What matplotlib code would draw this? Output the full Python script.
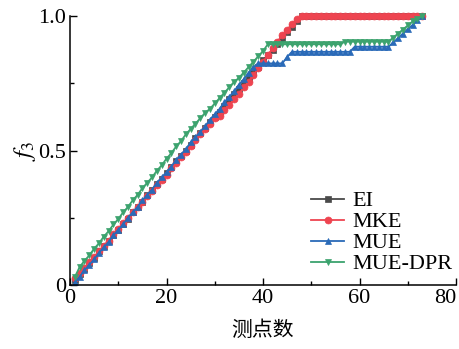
import matplotlib
matplotlib.use("Agg")
import matplotlib.pyplot as plt
from matplotlib.ticker import MultipleLocator

plt.rcParams['font.family'] = ['Liberation Serif', 'Noto Sans CJK SC']
plt.rcParams['mathtext.fontset'] = 'stix'

x_points = list(range(1, 74))
x_ticks = [0, 20, 40, 60, 80]
x_tick_labels = ["0", "20", "40", "60", "80"]
y_ticks = [0, 0.5, 1.0]
y_tick_labels = ["0", "0.5", "1.0"]

ei = [0.02, 0.04, 0.06, 0.08, 0.10, 0.125, 0.145, 0.165, 0.185, 0.205,
      0.225, 0.245, 0.27, 0.29, 0.31, 0.335, 0.355, 0.375, 0.395, 0.415,
      0.44, 0.46, 0.48, 0.50, 0.52, 0.545, 0.565, 0.585, 0.605, 0.625,
      0.645, 0.665, 0.69, 0.71, 0.73, 0.75, 0.77, 0.79, 0.81, 0.835,
      0.855, 0.875, 0.895, 0.915, 0.94, 0.96, 0.98, 1.0] + [1.0] * 25

mke = [0.025, 0.045, 0.065, 0.085, 0.105, 0.125, 0.145, 0.165, 0.19, 0.21,
       0.23, 0.25, 0.27, 0.29, 0.31, 0.33, 0.35, 0.37, 0.39, 0.41,
       0.435, 0.455, 0.475, 0.495, 0.515, 0.54, 0.56, 0.58, 0.60, 0.62,
       0.63, 0.65, 0.67, 0.69, 0.71, 0.735, 0.755, 0.78, 0.805, 0.83,
       0.855, 0.88, 0.905, 0.93, 0.95, 0.97, 0.99, 1.0] + [1.0] * 25

mue = [0.01, 0.03, 0.055, 0.075, 0.095, 0.12, 0.14, 0.16, 0.185, 0.205,
       0.225, 0.25, 0.27, 0.29, 0.315, 0.335, 0.355, 0.38, 0.40, 0.42,
       0.44, 0.465, 0.485, 0.505, 0.53, 0.55, 0.57, 0.59, 0.615, 0.635,
       0.655, 0.68, 0.70, 0.72, 0.745, 0.765, 0.79, 0.81, 0.824, 0.824] \
      + [0.824] * 4 + [0.848] + [0.867] * 13 + [0.886] * 8 \
      + [0.902, 0.918, 0.935, 0.951, 0.967, 0.984, 1.0]

mue_dpr = [0.03, 0.067, 0.09, 0.11, 0.135, 0.155, 0.18, 0.20, 0.225, 0.245,
           0.27, 0.29, 0.315, 0.335, 0.36, 0.38, 0.40, 0.425, 0.445, 0.47,
           0.49, 0.515, 0.535, 0.56, 0.58, 0.60, 0.62, 0.64, 0.655, 0.675,
           0.695, 0.715, 0.735, 0.755, 0.77, 0.79, 0.81, 0.83, 0.85, 0.87] \
          + [0.895] * 16 + [0.905] * 10 \
          + [0.92, 0.935, 0.95, 0.965, 0.98, 0.99, 1.0]

series = [
    ("EI", ei, "#4a4a4a", "s"),
    ("MKE", mke, "#ee4450", "o"),
    ("MUE", mue, "#2a6ab8", "^"),
    ("MUE-DPR", mue_dpr, "#3ca36e", "v"),
]

fig = plt.figure(figsize=(4.59, 3.49), dpi=100)
ax = fig.add_axes([0.1525, 0.1834, 0.841, 0.7706])

for name, vals, col, mk in series:
    ax.plot(x_points, vals, color=col, marker=mk, markersize=5,
            markeredgewidth=0.5, markeredgecolor=col, linewidth=1.3,
            label=name, clip_on=False)

ax.set_xlim(0, 80)
ax.set_ylim(0, 1.0)
ax.set_xticks(x_ticks, x_tick_labels)
ax.xaxis.set_minor_locator(MultipleLocator(10))
ax.set_yticks(y_ticks, y_tick_labels)
ax.yaxis.set_minor_locator(MultipleLocator(0.25))
ax.tick_params(which='both', direction='in', labelsize=16, width=1)
ax.tick_params(which='major', length=5, pad=3)
ax.tick_params(which='minor', length=3)
for s in ['top', 'right']:
    ax.spines[s].set_visible(False)
for s in ['left', 'bottom']:
    ax.spines[s].set_linewidth(1.1)

last_tick = ax.xaxis.get_major_ticks()[-1]
last_tick.label1.set_horizontalalignment('right')

ax.set_xlabel("测点数", fontsize=15, family=['Noto Sans CJK SC'], labelpad=8)
ax.set_ylabel("$f_3$", fontsize=18, labelpad=0)

ax.legend(loc='lower right', bbox_to_anchor=(1.025, -0.01), frameon=False,
          fontsize=16, handlelength=1.5, handletextpad=0.35,
          labelspacing=0.02, borderaxespad=0.2)

fig.savefig("out.png", dpi=100)
